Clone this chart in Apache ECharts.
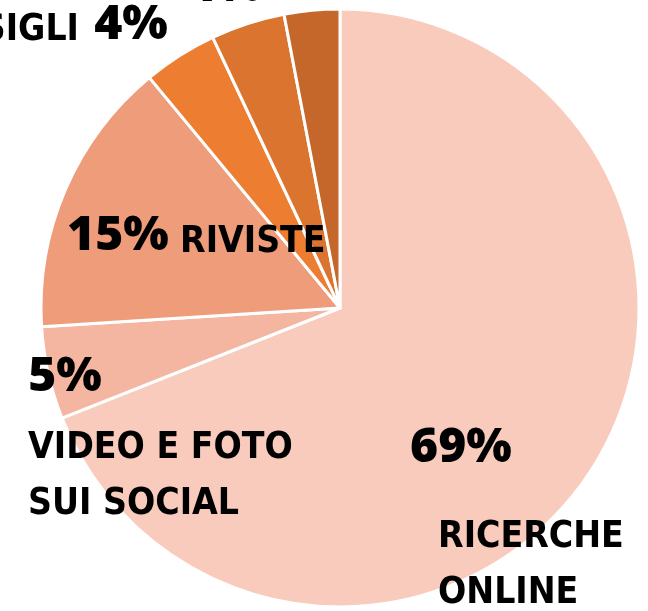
<!DOCTYPE html>
<html>
<head>
<meta charset="utf-8">
<script src="https://cdn.jsdelivr.net/npm/echarts@6/dist/echarts.min.js"></script>
<style>
  html, body { margin: 0; padding: 0; background: #ffffff; }
  #chart { width: 648px; height: 611px; }
</style>
</head>
<body>
<div id="chart"></div>
<script>
// ---- data ----
const categories = ['RICERCHE\nONLINE', 'VIDEO E FOTO\nSUI SOCIAL', 'RIVISTE', 'CONSIGLI', 'ALTRO 1', 'ALTRO 2'];
const values = [69, 5, 15, 4, 4, 3];
const showNames = [true, true, true, true, false, false];

// ---- styling / layout (not data) ----
const colors = ['#F8CBBD', '#F4B6A0', '#EF9C7A', '#ED7D31', '#DA742F', '#C5672A'];
const pctPos = [[461, 448], [65, 377], [118, 236], [131, 25], [225, -13], [330, -80]];
const namePos = [
  { x: 438, y: 509, align: 'left' },
  { x: 28, y: 420, align: 'left' },
  { x: 180, y: 214, align: 'left' },
  { x: 79, y: 2, align: 'right' },
  { x: 200, y: -120, align: 'left' },
  { x: 300, y: -120, align: 'left' }
];

const pctFont = { fontFamily: '"Open Sans", sans-serif', fontWeight: 800, fontSize: 48, color: '#000' };
const nameFont = { fontFamily: '"Liberation Sans Narrow", "DejaVu Sans Condensed", sans-serif', fontWeight: 'bold', fontSize: 37, lineHeight: 56, color: '#000' };

const pieData = values.map((v, i) => ({
  value: v,
  name: categories[i],
  itemStyle: { color: colors[i] }
}));

const nameData = values.map((v, i) => ({
  value: v,
  name: categories[i],
  label: { show: showNames[i] }
}));

const chart = echarts.init(document.getElementById('chart'), null, { renderer: 'canvas' });
chart.setOption({
  animation: false,
  backgroundColor: '#ffffff',
  series: [
    {
      type: 'pie',
      center: [340, 308],
      radius: [0, 299],
      startAngle: 90,
      clockwise: true,
      silent: true,
      itemStyle: { borderColor: '#ffffff', borderWidth: 3 },
      label: {
        show: true,
        position: 'inside',
        formatter: p => p.value + '%',
        ...pctFont
      },
      labelLine: { show: false },
      labelLayout: p => ({
        x: pctPos[p.dataIndex][0],
        y: pctPos[p.dataIndex][1],
        align: 'center',
        verticalAlign: 'middle'
      }),
      data: pieData
    },
    {
      type: 'pie',
      center: [340, 308],
      radius: [0, 299],
      startAngle: 90,
      clockwise: true,
      silent: true,
      itemStyle: { color: 'rgba(0,0,0,0)', borderWidth: 0 },
      label: {
        show: true,
        position: 'inside',
        formatter: p => p.name,
        ...nameFont
      },
      labelLine: { show: false },
      labelLayout: p => ({
        x: namePos[p.dataIndex].x,
        y: namePos[p.dataIndex].y,
        align: namePos[p.dataIndex].align,
        verticalAlign: 'top'
      }),
      data: nameData
    }
  ]
});
</script>
</body>
</html>
